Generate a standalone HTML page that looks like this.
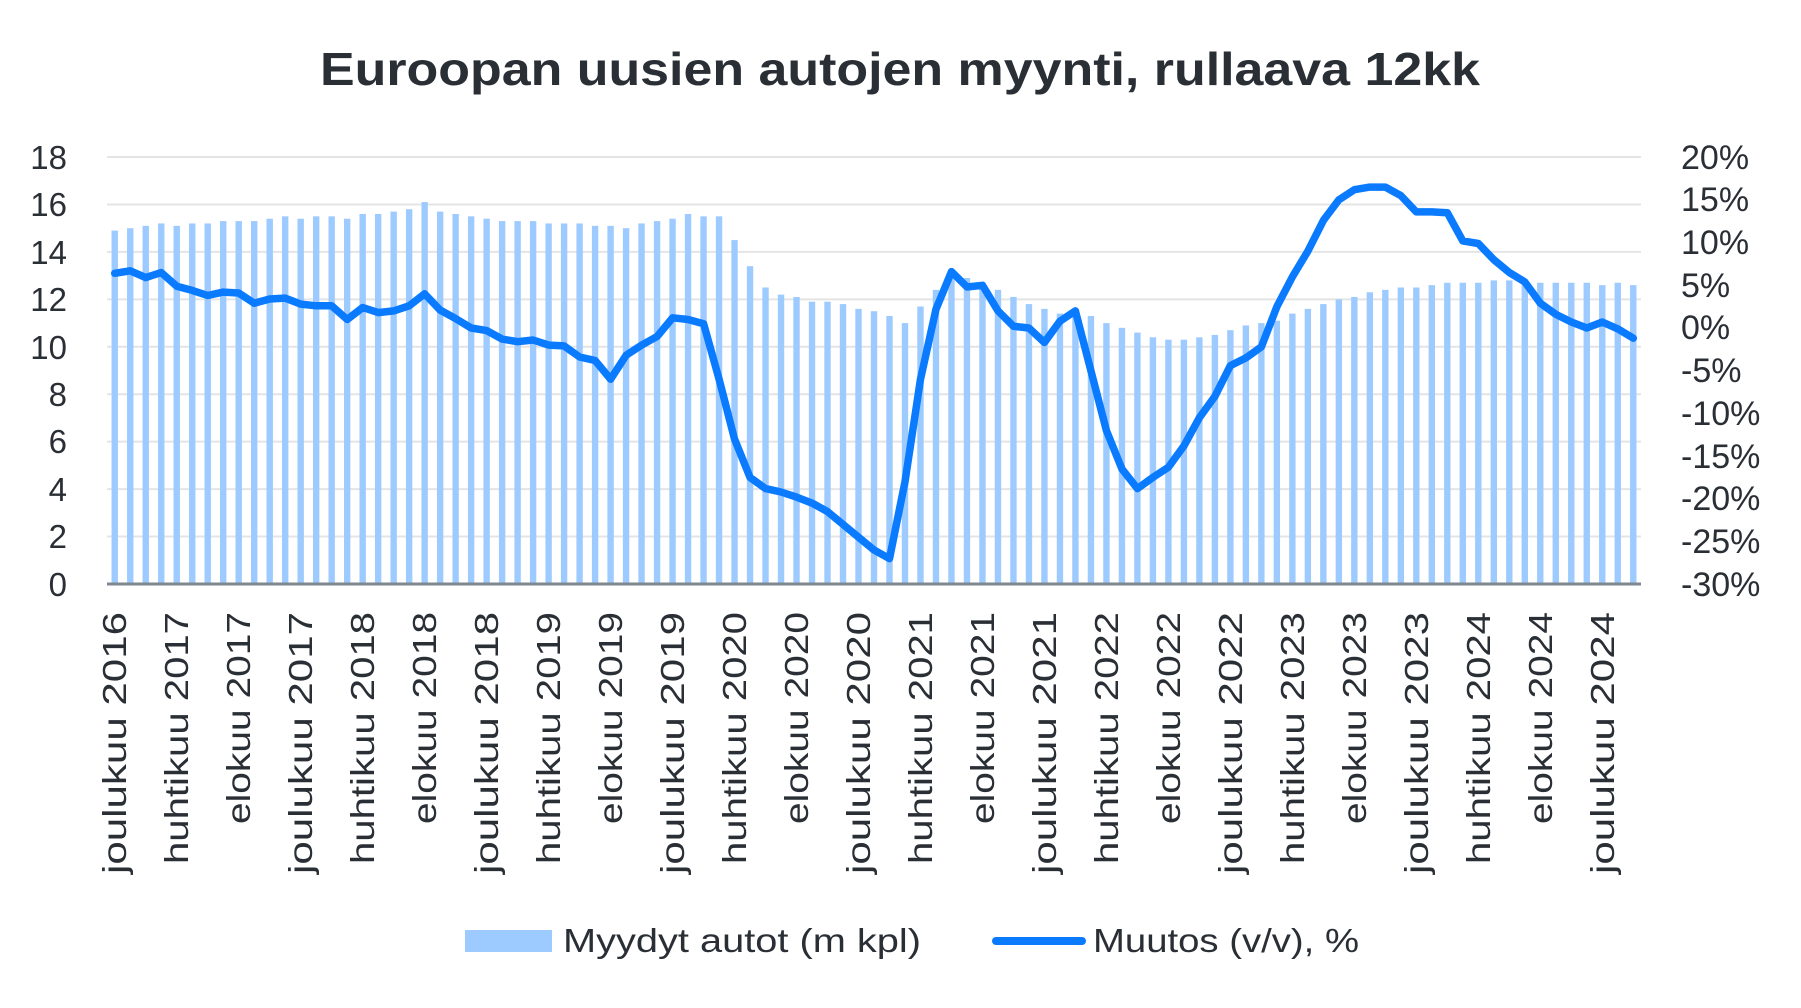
<!DOCTYPE html>
<html><head><meta charset="utf-8"><style>
html,body{margin:0;padding:0;background:#fff;}
svg{display:block;font-family:"Liberation Sans",sans-serif;}
</style></head><body>
<svg id="c" width="1801" height="1008" viewBox="0 0 1801 1008" xmlns="http://www.w3.org/2000/svg">
<text x="900" y="85" text-anchor="middle" font-size="46" font-weight="bold" fill="#2a2f36" textLength="1160" lengthAdjust="spacingAndGlyphs">Euroopan uusien autojen myynti, rullaava 12kk</text>
<g id="grid" stroke="#e4e4e4" stroke-width="2"></g>
<g id="bars" fill="#9ecbff"></g>
<line x1="107" y1="584" x2="1641" y2="584" stroke="#7f878f" stroke-width="3"/>
<polyline id="ln" fill="none" stroke="#0a7bff" stroke-width="7.5" stroke-linejoin="round" stroke-linecap="round"/>
<g font-size="33" fill="#2a2f36" text-anchor="end">
<text x="67" y="169">18</text><text x="67" y="216">16</text><text x="67" y="264">14</text><text x="67" y="311">12</text><text x="67" y="359">10</text><text x="67" y="406">8</text><text x="67" y="453">6</text><text x="67" y="501">4</text><text x="67" y="548">2</text><text x="67" y="596">0</text>
</g>
<g font-size="34" fill="#2a2f36">
<text x="1681" y="169">20%</text><text x="1681" y="211">15%</text><text x="1681" y="254">10%</text><text x="1681" y="297">5%</text><text x="1681" y="339">0%</text><text x="1681" y="382">-5%</text><text x="1681" y="425">-10%</text><text x="1681" y="468">-15%</text><text x="1681" y="510">-20%</text><text x="1681" y="553">-25%</text><text x="1681" y="596">-30%</text>
</g>
<g font-size="33" fill="#2a2f36" text-anchor="end">
<text transform="translate(126,612) rotate(-90)" textLength="262" lengthAdjust="spacingAndGlyphs">joulukuu 2016</text>
<text transform="translate(188,612) rotate(-90)" textLength="252" lengthAdjust="spacingAndGlyphs">huhtikuu 2017</text>
<text transform="translate(250,612) rotate(-90)" textLength="212" lengthAdjust="spacingAndGlyphs">elokuu 2017</text>
<text transform="translate(312,612) rotate(-90)" textLength="262" lengthAdjust="spacingAndGlyphs">joulukuu 2017</text>
<text transform="translate(374,612) rotate(-90)" textLength="252" lengthAdjust="spacingAndGlyphs">huhtikuu 2018</text>
<text transform="translate(436,612) rotate(-90)" textLength="212" lengthAdjust="spacingAndGlyphs">elokuu 2018</text>
<text transform="translate(498,612) rotate(-90)" textLength="262" lengthAdjust="spacingAndGlyphs">joulukuu 2018</text>
<text transform="translate(560,612) rotate(-90)" textLength="252" lengthAdjust="spacingAndGlyphs">huhtikuu 2019</text>
<text transform="translate(622,612) rotate(-90)" textLength="212" lengthAdjust="spacingAndGlyphs">elokuu 2019</text>
<text transform="translate(684,612) rotate(-90)" textLength="262" lengthAdjust="spacingAndGlyphs">joulukuu 2019</text>
<text transform="translate(746,612) rotate(-90)" textLength="252" lengthAdjust="spacingAndGlyphs">huhtikuu 2020</text>
<text transform="translate(808,612) rotate(-90)" textLength="212" lengthAdjust="spacingAndGlyphs">elokuu 2020</text>
<text transform="translate(870,612) rotate(-90)" textLength="262" lengthAdjust="spacingAndGlyphs">joulukuu 2020</text>
<text transform="translate(932,612) rotate(-90)" textLength="252" lengthAdjust="spacingAndGlyphs">huhtikuu 2021</text>
<text transform="translate(994,612) rotate(-90)" textLength="212" lengthAdjust="spacingAndGlyphs">elokuu 2021</text>
<text transform="translate(1056,612) rotate(-90)" textLength="262" lengthAdjust="spacingAndGlyphs">joulukuu 2021</text>
<text transform="translate(1118,612) rotate(-90)" textLength="252" lengthAdjust="spacingAndGlyphs">huhtikuu 2022</text>
<text transform="translate(1180,612) rotate(-90)" textLength="212" lengthAdjust="spacingAndGlyphs">elokuu 2022</text>
<text transform="translate(1242,612) rotate(-90)" textLength="262" lengthAdjust="spacingAndGlyphs">joulukuu 2022</text>
<text transform="translate(1304,612) rotate(-90)" textLength="252" lengthAdjust="spacingAndGlyphs">huhtikuu 2023</text>
<text transform="translate(1366,612) rotate(-90)" textLength="212" lengthAdjust="spacingAndGlyphs">elokuu 2023</text>
<text transform="translate(1428,612) rotate(-90)" textLength="262" lengthAdjust="spacingAndGlyphs">joulukuu 2023</text>
<text transform="translate(1490,612) rotate(-90)" textLength="252" lengthAdjust="spacingAndGlyphs">huhtikuu 2024</text>
<text transform="translate(1552,612) rotate(-90)" textLength="212" lengthAdjust="spacingAndGlyphs">elokuu 2024</text>
<text transform="translate(1614,612) rotate(-90)" textLength="262" lengthAdjust="spacingAndGlyphs">joulukuu 2024</text>
</g>
<rect x="465" y="930" width="87" height="22" fill="#9ecbff"/>
<text x="563" y="952" font-size="33" fill="#2a2f36" textLength="358" lengthAdjust="spacingAndGlyphs">Myydyt autot (m kpl)</text>
<line x1="996" y1="941" x2="1082" y2="941" stroke="#0a7bff" stroke-width="8" stroke-linecap="round"/>
<text x="1093" y="952" font-size="33" fill="#2a2f36" textLength="266" lengthAdjust="spacingAndGlyphs">Muutos (v/v), %</text>
</svg>
<script>
var NS="http://www.w3.org/2000/svg";
var g=document.getElementById("grid");
for(var k=0;k<9;k++){var y=157+k*47.44;var l=document.createElementNS(NS,"line");l.setAttribute("x1",107);l.setAttribute("x2",1641);l.setAttribute("y1",y);l.setAttribute("y2",y);g.appendChild(l);}
var bars=[14.9,15.0,15.1,15.2,15.1,15.2,15.2,15.3,15.3,15.3,15.4,15.5,15.4,15.5,15.5,15.4,15.6,15.6,15.7,15.8,16.1,15.7,15.6,15.5,15.4,15.3,15.3,15.3,15.2,15.2,15.2,15.1,15.1,15.0,15.2,15.3,15.4,15.6,15.5,15.5,14.5,13.4,12.5,12.2,12.1,11.9,11.9,11.8,11.6,11.5,11.3,11.0,11.7,12.4,12.9,12.9,12.5,12.4,12.1,11.8,11.6,11.4,11.3,11.3,11.0,10.8,10.6,10.4,10.3,10.3,10.4,10.5,10.7,10.9,11.0,11.1,11.4,11.6,11.8,12.0,12.1,12.3,12.4,12.5,12.5,12.6,12.7,12.7,12.7,12.8,12.8,12.8,12.7,12.7,12.7,12.7,12.6,12.7,12.6];
var pct=[6.4,6.7,5.9,6.5,4.9,4.4,3.8,4.2,4.1,2.9,3.4,3.5,2.8,2.6,2.6,1.0,2.4,1.8,2.0,2.6,4.0,2.1,1.1,0,-0.3,-1.3,-1.6,-1.4,-2.0,-2.1,-3.4,-3.8,-6.0,-3.2,-2.0,-1.0,1.2,1.0,0.5,-6,-13,-17.5,-18.8,-19.2,-19.8,-20.5,-21.5,-23,-24.5,-26,-27,-18,-6,2.2,6.6,4.8,5.0,2.0,0.2,0,-1.7,0.8,2.0,-5,-12,-16.5,-18.8,-17.5,-16.3,-13.8,-10.5,-8,-4.4,-3.5,-2.2,2.5,6,9,12.6,15,16.2,16.5,16.5,15.5,13.6,13.6,13.5,10.2,9.9,8,6.5,5.4,2.9,1.6,0.7,0,0.7,-0.1,-1.2];
var bg=document.getElementById("bars"),pts=[];
var sp=(1641-107)/99;
for(var i=0;i<99;i++){var cx=107+sp*(i+0.5);var v=bars[i]||12.6;var h=v*23.72;
var r=document.createElementNS(NS,"rect");r.setAttribute("x",cx-3.2);r.setAttribute("width",6.4);r.setAttribute("y",584-h);r.setAttribute("height",h);bg.appendChild(r);
var p=pct[i];if(p===undefined)p=-1.2;pts.push(cx.toFixed(1)+","+(328-p*8.54).toFixed(1));}
document.getElementById("ln").setAttribute("points",pts.join(" "));
</script>
</body></html>
